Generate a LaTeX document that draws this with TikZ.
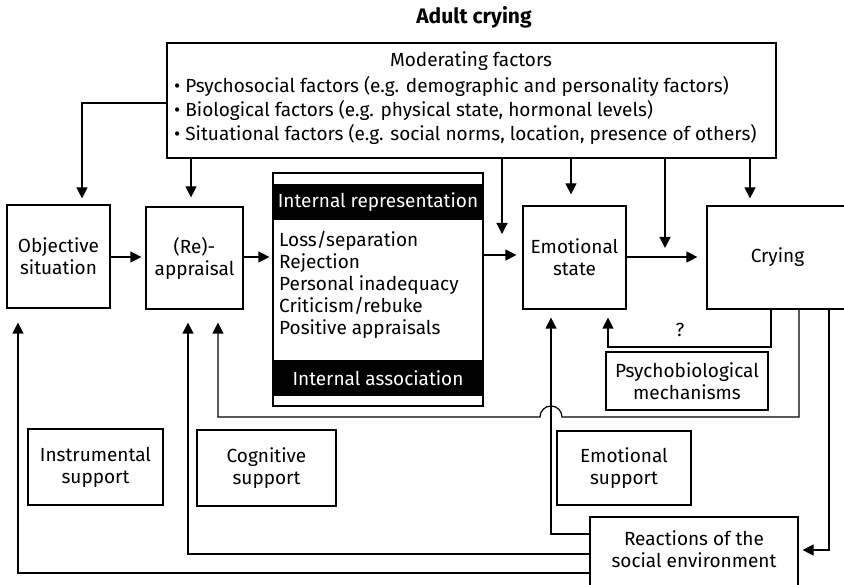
\documentclass[tikz,border=0pt]{standalone}
\usepackage{fontspec}
\setmainfont{Fira Sans}
\usetikzlibrary{arrows.meta}
\begin{document}
\begin{tikzpicture}[x=1pt,y=-1pt,
  every node/.style={font=\fontsize{19}{22}\selectfont, inner sep=0pt},
  box/.style={draw, line width=1.2pt, align=center},
  band/.style={fill=black, text=white, minimum width=210pt, minimum height=36pt},
  arr/.style={-{Triangle[length=11pt,width=11pt]}, line width=1.2pt},
  ln/.style={line width=1.2pt}]
\useasboundingbox (0,0) rectangle (844,585);

% title
\node[font=\fontsize{21}{24}\selectfont\bfseries] (title) at (474,17) {Adult crying};

% moderating factors
\node[box, minimum width=609pt, minimum height=115pt] (mod) at (471.5,100.5) {};
\node (modt) at (471,61) {Moderating factors};
\node[anchor=west] (b1) at (174,86) {• Psychosocial factors (e.g. demographic and personality factors)};
\node[anchor=west] (b2) at (174,110) {• Biological factors (e.g. physical state, hormonal levels)};
\node[anchor=west] (b3) at (174,134) {• Situational factors (e.g. social norms, location, presence of others)};

% main chain
\node[box, minimum width=103pt, minimum height=103pt] (obj) at (58.5,256.5) {Objective\\situation};
\node[box, minimum width=97pt, minimum height=102pt] (reap) at (194.5,258) {(Re)-\\appraisal};
\node[box, minimum width=210pt, minimum height=233pt] (irep) at (378,289.5) {};
\node[band] (ihead) at (378,202) {Internal representation};
\node[band] (iassoc) at (378,378) {Internal association};
\node[anchor=west, align=left] (ilist) at (279,285) {Loss/separation\\Rejection\\Personal inadequacy\\Criticism/rebuke\\Positive appraisals};
\node[box, minimum width=103pt, minimum height=103pt] (emo) at (574.5,257.5) {Emotional\\state};
\node[box, minimum width=141pt, minimum height=103pt] (cry) at (777.5,257.5) {Crying};

% support boxes
\node[box, minimum width=162pt, minimum height=58pt] (psy) at (687,381) {Psychobiological\\mechanisms};
\node[box, minimum width=135pt, minimum height=76pt] (instr) at (95.5,467) {Instrumental\\support};
\node[box, minimum width=139pt, minimum height=76pt] (cog) at (266.5,468) {Cognitive\\support};
\node[box, minimum width=134pt, minimum height=74pt] (esup) at (624,468) {Emotional\\support};
\node[box, minimum width=208pt, minimum height=84pt] (react) at (694,559) {};
\node[align=center] (reactt) at (694,549) {Reactions of the\\social environment};

% influences of the moderating factors
\draw[arr, shorten >=6pt] (mod.west |- 0,103) -| (obj.north -| 82,0);
\draw[arr, shorten >=9pt] (mod.south -| 191,0) -- (reap.north -| 191,0);
\coordinate (m1) at (502,234);
\draw[arr] (mod.south -| 502,0) -- (m1);
\draw[arr, shorten >=11pt] (mod.south -| 571,0) -- (emo.north -| 571,0);
\coordinate (m2) at (665,248);
\draw[arr] (mod.south -| 665,0) -- (m2);
\draw[arr, shorten >=7pt] (mod.south -| 750,0) -- (cry.north -| 750,0);

% forward chain
\draw[arr, shorten >=4pt] (obj.east |- 0,257) -- (reap.west |- 0,257);
\draw[arr, shorten >=3pt] (reap.east |- 0,257) -- (irep.west |- 0,257);
\draw[arr, shorten >=6pt] (irep.east |- 0,255) -- (emo.west |- 0,255);
\draw[arr, shorten >=9pt] (emo.east |- 0,257) -- (cry.west |- 0,257);

% feedback from crying
\draw[arr, shorten >=8pt] (cry.south -| 771,0) |- (608,347) -- (emo.south -| 608,0);
\node (q) at (680,330) {?};
\draw[arr, shorten >=13pt] (cry.south -| 799,0) -- (799,417) -- (562,417)
  arc[start angle=0, end angle=180, radius=11pt] -- (218,417) -- (reap.south -| 218,0);
\draw[arr, shorten >=4pt] (cry.south -| 829,0) |- (react.east |- 0,550);

% reactions of the social environment
\draw[arr, shorten >=8pt] (react.west |- 0,534) -| (emo.south -| 551,0);
\draw[arr, shorten >=13pt] (react.west |- 0,554) -| (reap.south -| 188,0);
\draw[arr, shorten >=14pt] (react.west |- 0,573) -| (obj.south -| 18,0);
\end{tikzpicture}
\end{document}
